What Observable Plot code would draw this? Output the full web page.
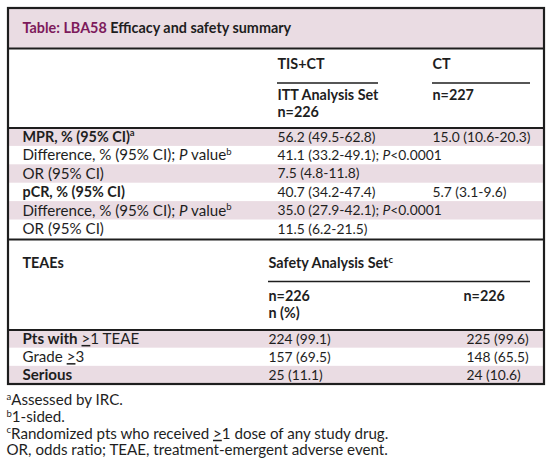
<!DOCTYPE html>
<html><head><meta charset="utf-8">
<script src="https://cdn.jsdelivr.net/npm/d3@7"></script>
<script src="https://cdn.jsdelivr.net/npm/@observablehq/plot@0.6"></script>
<style>body{margin:0;background:#fff;}#chart svg{display:block;}</style>
</head><body><div id="chart"></div>
<script>
// ---------- data ----------
const titleLabel = "Table: LBA58";
const titleText = "Efficacy and safety summary";
const arms = ["TIS+CT", "CT"];
const ittHeader = ["ITT Analysis Set", "n=226"];
const ctHeader = ["n=227"];
const effLabels = ["MPR, % (95% CI)", "Difference, % (95% CI); P value", "OR (95% CI)",
                   "pCR, % (95% CI)", "Difference, % (95% CI); P value", "OR (95% CI)"];
const effSup = ["a", "b", "", "", "b", ""];
const effBold = [true, false, false, true, false, false];
const effTIS = ["56.2 (49.5-62.8)", "41.1 (33.2-49.1); P<0.0001", "7.5 (4.8-11.8)",
                "40.7 (34.2-47.4)", "35.0 (27.9-42.1); P<0.0001", "11.5 (6.2-21.5)"];
const effCT = ["15.0 (10.6-20.3)", "", "", "5.7 (3.1-9.6)", "", ""];
const teaeHeader = "TEAEs";
const safetyHeader = "Safety Analysis Set";
const safetySup = "c";
const safetyN = ["n=226", "n=226"];
const safetyUnit = "n (%)";
const safetyLabels = ["Pts with \u22651 TEAE", "Grade \u22653", "Serious"];
const safetyBoldPart = ["Pts with", "", "Serious"];
const safetyTIS = ["224 (99.1)", "157 (69.5)", "25 (11.1)"];
const safetyCT = ["225 (99.6)", "148 (65.5)", "24 (10.6)"];
const footnoteMarks = ["a", "b", "c", ""];
const footnotes = ["Assessed by IRC.", "1-sided.",
  "Randomized pts who received \u22651 dose of any study drug.",
  "OR, odds ratio; TEAE, treatment-emergent adverse event."];

// ---------- font calibration (match the reference's Calibri-like metrics) ----------
const FONT = "Lato, 'Open Sans', sans-serif";
function measure(str, weight) {
  const svg = d3.select("body").append("svg").attr("width", 10).attr("height", 10);
  const t = svg.append("text").attr("font-family", FONT).attr("font-size", 100).attr("font-weight", weight).text(str);
  const w = t.node().getComputedTextLength();
  svg.remove();
  return w;
}
const FS_L = Math.min(17, 100 * 204 / measure(effLabels[1], "normal"));   // regular label text
const FS_N = Math.min(17, 100 * 98 / measure(effCT[0], "normal"));        // numeric values
const FS_B = Math.min(17, 100 * 101 / measure(ittHeader[0], "bold"));     // bold headers

// ---------- layout ----------
const W = 554, H = 469;
const INK = "#1e1e1e", PURPLE = "#7d1a5b", PINK = "#eadce3";
const bx0 = 8, bx1 = 544, by0 = 8, by1 = 384;
const titleBottom = 48;
const xLab = 22, xC1 = 277, xC2 = 432, xS1 = 268, xS2 = 466;
const effTop = 127.5, effH = 18.4;
const effBottom = effTop + effLabels.length * effH;
const safTop = 329.5;
const safH = (by1 - safTop) / safetyLabels.length;

const stripes = [];
effLabels.forEach((d, i) => { if (i % 2 === 0) stripes.push({y1: effTop + i * effH, y2: effTop + (i + 1) * effH}); });
safetyLabels.forEach((d, i) => { if (i % 2 === 0) stripes.push({y1: safTop + i * safH, y2: safTop + (i + 1) * safH}); });

const boldTexts = [], normalTexts = [];
boldTexts.push({x: xLab, y: 28, t: titleLabel + " " + titleText, fs: FS_B});
boldTexts.push({x: xC1, y: 64, t: arms[0], fs: FS_B});
boldTexts.push({x: xC2, y: 64, t: arms[1], fs: FS_B});
boldTexts.push({x: xC1, y: 95, t: ittHeader[0], fs: FS_B});
boldTexts.push({x: xC1, y: 112, t: ittHeader[1], fs: FS_B});
boldTexts.push({x: xC2, y: 95, t: ctHeader[0], fs: FS_B});
effLabels.forEach((l, i) => {
  const y = effTop + (i + 0.5) * effH;
  if (effBold[i]) boldTexts.push({x: xLab, y, t: l, fs: FS_B});
  else normalTexts.push({x: xLab, y, t: l, fs: FS_L});
  if (effTIS[i]) normalTexts.push({x: xC1, y, t: effTIS[i], fs: FS_N});
  if (effCT[i]) normalTexts.push({x: xC2, y, t: effCT[i], fs: FS_N});
});
boldTexts.push({x: xLab, y: 263, t: teaeHeader, fs: FS_B});
boldTexts.push({x: xS1, y: 263, t: safetyHeader, fs: FS_B});
boldTexts.push({x: xS1, y: 296, t: safetyN[0], fs: FS_B});
boldTexts.push({x: xS2 - 3, y: 296, t: safetyN[1], fs: FS_B});
boldTexts.push({x: xS1, y: 313, t: safetyUnit, fs: FS_B});
safetyLabels.forEach((l, i) => {
  const y = safTop + (i + 0.5) * safH;
  normalTexts.push({x: xLab, y, t: l, fs: FS_L});
  normalTexts.push({x: xS1, y, t: safetyTIS[i], fs: FS_N});
  normalTexts.push({x: xS2, y, t: safetyCT[i], fs: FS_N});
});
footnotes.forEach((f, i) => normalTexts.push({x: 6, y: 400 + i * 16.7, t: f, fs: FS_L}));

const thinRules = [
  {y: 82.5, x1: xC1, x2: 378},
  {y: 82.5, x1: xC2, x2: 530},
  {y: 281, x1: xS1, x2: 530}
];
const thickRules = [
  {y: titleBottom, x1: bx0, x2: bx1},
  {y: effTop, x1: bx0, x2: bx1},
  {y: effBottom + 1, x1: bx0, x2: bx1},
  {y: safTop, x1: bx0, x2: bx1}
];

const plot = Plot.plot({
  width: W, height: H, margin: 0,
  x: {domain: [0, W], range: [0, W], axis: null},
  y: {domain: [0, H], range: [0, H], axis: null},
  style: {fontFamily: FONT, background: "#fff"},
  marks: [
    Plot.rect([{}], {x1: () => bx0, x2: () => bx1, y1: () => by0, y2: () => titleBottom, fill: PINK}),
    Plot.rect(stripes, {x1: () => bx0, x2: () => bx1, y1: "y1", y2: "y2", fill: PINK}),
    Plot.ruleY(thinRules, {y: "y", x1: "x1", x2: "x2", stroke: INK, strokeWidth: 1.6}),
    Plot.ruleY(thickRules, {y: "y", x1: "x1", x2: "x2", stroke: INK, strokeWidth: 2}),
    Plot.rect([{}], {x1: () => bx0, x2: () => bx1, y1: () => by0, y2: () => by1, fill: "none", stroke: INK, strokeWidth: 2.2}),
    Plot.text(boldTexts, {x: "x", y: "y", text: "t", textAnchor: "start", fontSize: "fs", fontWeight: "bold", fill: INK}),
    Plot.text(normalTexts, {x: "x", y: "y", text: "t", textAnchor: "start", fontSize: "fs", fill: INK})
  ]
});

// ---------- rich text (superscripts, italic P, partial bold, coloured prefix, underlined >) ----------
const rich = new Map();
effLabels.forEach((l, i) => rich.set(l, {sup: effSup[i]}));
rich.set(safetyHeader, {sup: safetySup});
safetyLabels.forEach((l, i) => rich.set(l, {boldPart: safetyBoldPart[i]}));
footnotes.forEach((f, i) => rich.set(f, {supBefore: footnoteMarks[i]}));
rich.set(titleLabel + " " + titleText, {colorPart: titleLabel});

function segments(s) {
  const r = rich.get(s) || {};
  const segs = [];
  let body = s;
  if (r.supBefore) segs.push({t: r.supBefore, sup: true});
  if (r.colorPart && body.startsWith(r.colorPart)) { segs.push({t: r.colorPart, fill: PURPLE}); body = body.slice(r.colorPart.length); }
  if (r.boldPart && body.startsWith(r.boldPart)) { segs.push({t: r.boldPart, bold: true}); body = body.slice(r.boldPart.length); }
  body.split(/(\bP(?= value|<)|\u2265)/).forEach(p => {
    if (!p) return;
    if (p === "\u2265") segs.push({t: ">", geq: true});
    else segs.push({t: p, italic: p === "P"});
  });
  if (r.sup) segs.push({t: r.sup, sup: true});
  return segs;
}
const NS = "http://www.w3.org/2000/svg";
plot.querySelectorAll("text").forEach(el => {
  const s = el.textContent;
  const segs = segments(s);
  if (segs.length === 1 && !segs[0].sup && !segs[0].italic && !segs[0].bold && !segs[0].geq) return;
  el.textContent = "";
  let shifted = false;
  segs.forEach(sg => {
    const ts = document.createElementNS(NS, "tspan");
    ts.textContent = sg.t;
    if (sg.sup) { ts.setAttribute("font-size", 9.5); ts.setAttribute("dy", -5.5); shifted = true; }
    else if (shifted) { ts.setAttribute("dy", 5.5); shifted = false; }
    if (sg.italic) ts.setAttribute("font-style", "italic");
    if (sg.bold) ts.setAttribute("font-weight", "bold");
    if (sg.fill) ts.setAttribute("fill", sg.fill);
    if (sg.geq) ts.setAttribute("text-decoration", "underline");
    el.appendChild(ts);
  });
});
document.getElementById("chart").appendChild(plot);
</script>
</body></html>
